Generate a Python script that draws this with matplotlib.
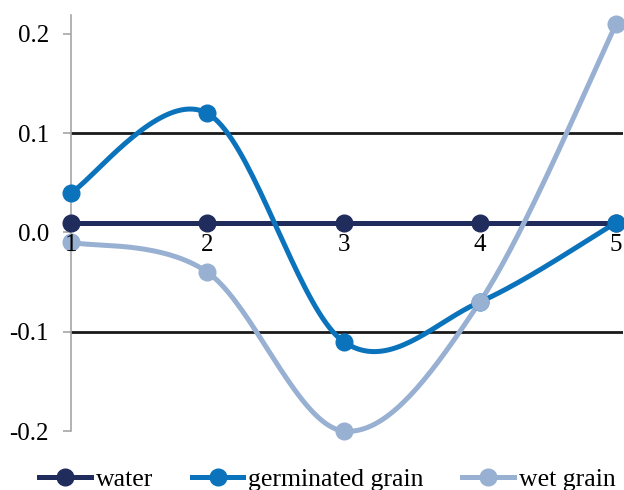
import matplotlib.pyplot as plt
import numpy as np

plt.rcParams['font.family'] = ['Liberation Serif', 'DejaVu Serif']

days = [1, 2, 3, 4, 5]
water = [0.01, 0.01, 0.01, 0.01, 0.01]
germinated = [0.04, 0.12, -0.11, -0.07, 0.01]
wet = [-0.01, -0.04, -0.20, -0.07, 0.21]

series = [
    ("water", water, "#1F2C5C"),
    ("germinated grain", germinated, "#0B73BB"),
    ("wet grain", wet, "#98B0D2"),
]


def smooth(x, y, n=40):
    # cardinal spline through the points, like a spreadsheet "smoothed line"
    x = np.asarray(x, float)
    y = np.asarray(y, float)
    xs, ys = [], []
    for i in range(len(x) - 1):
        p0 = np.array([x[max(i - 1, 0)], y[max(i - 1, 0)]])
        p1 = np.array([x[i], y[i]])
        p2 = np.array([x[i + 1], y[i + 1]])
        p3 = np.array([x[min(i + 2, len(x) - 1)], y[min(i + 2, len(x) - 1)]])
        c1 = p1 + (p2 - p0) / 6
        c2 = p2 - (p3 - p1) / 6
        t = np.linspace(0, 1, n)[:, None]
        b = (1 - t) ** 3 * p1 + 3 * (1 - t) ** 2 * t * c1 + 3 * (1 - t) * t ** 2 * c2 + t ** 3 * p2
        xs.extend(b[:, 0])
        ys.extend(b[:, 1])
    return np.array(xs), np.array(ys)


fig = plt.figure(figsize=(6.24, 4.9), dpi=100)
ax = fig.add_axes([0.1138, 0.1204, 0.8846, 0.8490])

for yv in (0.1, -0.1):
    ax.axhline(yv, color="#1a1a1a", lw=2, zorder=1)

handles = []
for name, vals, col in series:
    sx, sy = smooth(days, vals)
    ax.plot(sx, sy, color=col, lw=3.6, zorder=3, clip_on=False, solid_capstyle="round")
    ax.plot(days, vals, "o", color=col, ms=12, zorder=4, clip_on=False)
    h, = ax.plot([], [], color=col, lw=3.6, marker="o", ms=12, label=name)
    handles.append(h)

ax.set_xlim(1, 5.05)
ax.set_ylim(-0.2, 0.219)
ax.set_yticks([-0.2, -0.1, 0.0, 0.1, 0.2])
ax.set_yticklabels(["-0.2", "-0.1", "0.0", "0.1", "0.2"])
ax.tick_params(axis="y", length=6, width=1.2, color="#a6a6a6", labelsize=18, pad=10)
ax.set_xticks([])

for s in ("top", "right", "bottom"):
    ax.spines[s].set_visible(False)
ax.spines["left"].set_color("#a6a6a6")
ax.spines["left"].set_linewidth(1.2)

for d in days:
    ax.text(d, -0.002, str(d), ha="center", va="top", fontsize=18, zorder=6)

fig.legend(handles=handles, loc="center", bbox_to_anchor=(0.525, 0.022), ncol=3,
           frameon=False, fontsize=18.5, handlelength=2.0, handletextpad=0.2,
           columnspacing=1.5, borderaxespad=0)

fig.savefig("out.png", dpi=100)
